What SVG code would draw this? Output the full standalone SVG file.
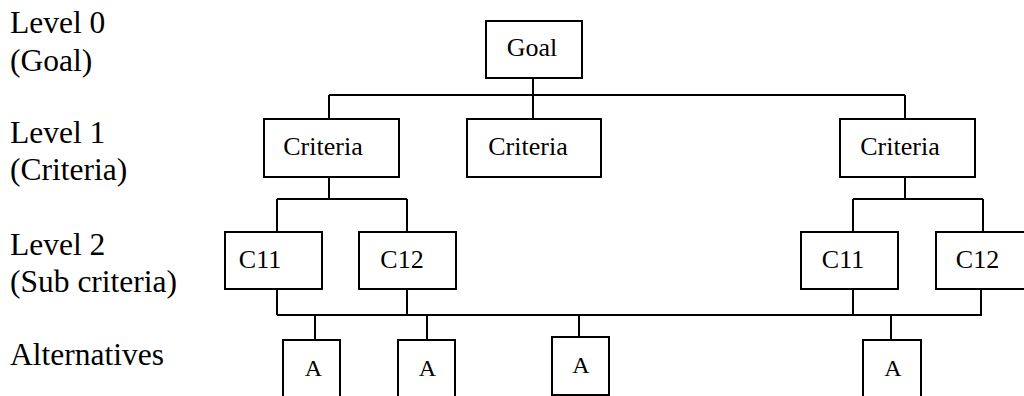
<svg xmlns="http://www.w3.org/2000/svg" width="1024" height="396" viewBox="0 0 1024 396" font-family="'Liberation Serif', 'Times New Roman', Times, serif">
<style>
.box{fill:#fff;stroke:#000;stroke-width:2}
.ln{fill:none;stroke:#000;stroke-width:2}
text{font-family:'Liberation Serif','Times New Roman',Times,serif;fill:#000}
.lbl{font-size:31.5px}
.t{font-size:26px;text-anchor:middle}
.ta{font-size:24px;text-anchor:middle}
</style>
<rect width="1024" height="396" fill="#fff"/>
<g id="labels">
<text class="lbl" x="10" y="33">Level 0</text>
<text class="lbl" x="10" y="71">(Goal)</text>
<text class="lbl" x="10" y="143">Level 1</text>
<text class="lbl" x="10" y="180">(Criteria)</text>
<text class="lbl" x="10" y="255">Level 2</text>
<text class="lbl" x="10" y="292">(Sub criteria)</text>
<text class="lbl" x="10" y="365">Alternatives</text>
</g>
<g id="connectors">
<path class="ln" d="M533 78V119M329 95H905M329 95V119M905 95V119"/>
<path class="ln" d="M329 177V199M277 199H407M277 199V232M407 199V232"/>
<path class="ln" d="M905 177V199M853 199H983M853 199V232M983 199V232"/>
<path class="ln" d="M277 289V315M407 289V315M853 289V315M981 289V315M277 315H982"/>
<path class="ln" d="M315 315V340M427 315V340M579 315V337M891 315V340"/>
</g>
<g id="goal"><rect class="box" x="486" y="21" width="96" height="57"/><text class="t" x="532" y="56">Goal</text></g>
<g id="crit1"><rect class="box" x="264" y="119" width="135" height="58"/><text class="t" x="323" y="155">Criteria</text></g>
<g id="crit2"><rect class="box" x="467" y="119" width="134" height="58"/><text class="t" x="528" y="155">Criteria</text></g>
<g id="crit3"><rect class="box" x="840" y="119" width="135" height="58"/><text class="t" x="900" y="155">Criteria</text></g>
<g id="c11a"><rect class="box" x="225" y="232" width="97" height="57"/><text class="t" x="260" y="268">C11</text></g>
<g id="c12a"><rect class="box" x="359" y="232" width="97" height="57"/><text class="t" x="402" y="268">C12</text></g>
<g id="c11b"><rect class="box" x="801" y="232" width="97" height="57"/><text class="t" x="843" y="268">C11</text></g>
<g id="c12b"><rect class="box" x="936" y="232" width="97" height="57"/><text class="t" x="977.5" y="268">C12</text></g>
<g id="alt1"><rect class="box" x="283" y="340" width="57" height="70"/><text class="ta" x="313.5" y="376">A</text></g>
<g id="alt2"><rect class="box" x="398" y="340" width="57" height="70"/><text class="ta" x="427.5" y="376">A</text></g>
<g id="alt3"><rect class="box" x="552" y="337" width="57" height="58"/><text class="ta" x="581" y="373">A</text></g>
<g id="alt4"><rect class="box" x="863" y="340" width="58" height="70"/><text class="ta" x="893" y="376">A</text></g>
</svg>
